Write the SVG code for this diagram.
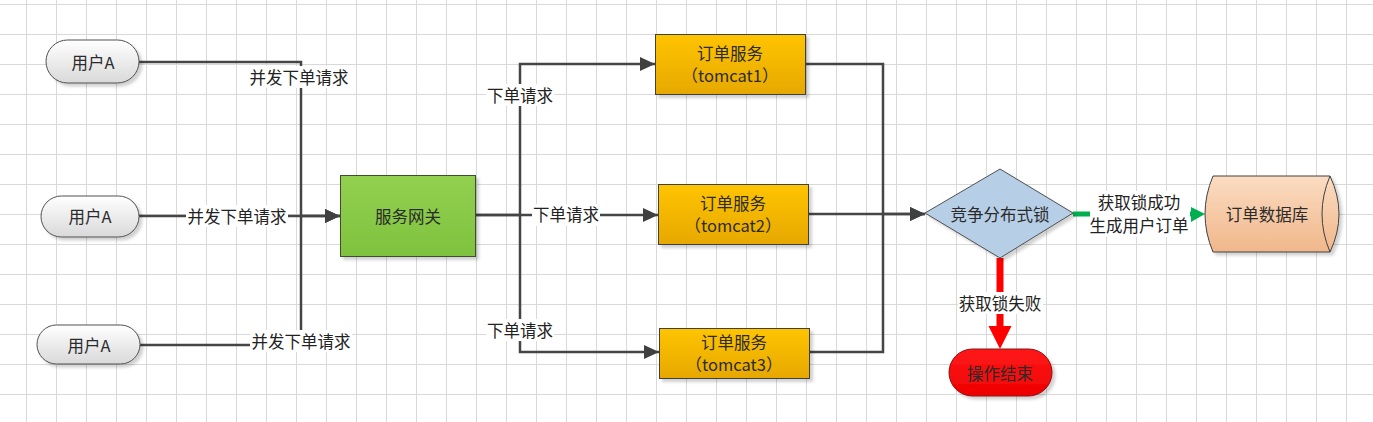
<svg xmlns="http://www.w3.org/2000/svg" width="1373" height="422" viewBox="0 0 1373 422">
  <defs>
    <pattern id="grid" x="26" y="4" width="30" height="30" patternUnits="userSpaceOnUse">
      <path d="M0 0.5 H30 M0.5 0 V30" stroke="#d9d9d9" stroke-width="1" fill="none"/>
    </pattern>
    <linearGradient id="gUser" x1="0" y1="0" x2="0" y2="1">
      <stop offset="0" stop-color="#ffffff"/>
      <stop offset="1" stop-color="#d9d9d9"/>
    </linearGradient>
    <linearGradient id="gGate" x1="0" y1="0" x2="0" y2="1">
      <stop offset="0" stop-color="#92d050"/>
      <stop offset="1" stop-color="#7fc23e"/>
    </linearGradient>
    <linearGradient id="gTom" x1="0" y1="0" x2="0" y2="1">
      <stop offset="0" stop-color="#ffc400"/>
      <stop offset="1" stop-color="#e6a800"/>
    </linearGradient>
    <linearGradient id="gDb" x1="0" y1="0" x2="0" y2="1">
      <stop offset="0" stop-color="#fbdcc2"/>
      <stop offset="1" stop-color="#f0b78a"/>
    </linearGradient>
    <linearGradient id="gEnd" x1="0" y1="0" x2="0" y2="1">
      <stop offset="0" stop-color="#ff1a1a"/>
      <stop offset="1" stop-color="#ee0000"/>
    </linearGradient>
    <filter id="sh" x="-10%" y="-10%" width="130%" height="140%">
      <feDropShadow dx="3" dy="3" stdDeviation="1.5" flood-color="#000" flood-opacity="0.18"/>
    </filter>
    <marker id="arr" markerUnits="userSpaceOnUse" markerWidth="16" markerHeight="16" refX="15" refY="7" orient="auto">
      <path d="M0,0 L15,7 L0,14 z" fill="#404040"/>
    </marker>
  </defs>
  <style>
    text { font-family: "Noto Sans CJK SC", "Liberation Sans", sans-serif; font-size: 16.5px; fill: #222; text-anchor: middle; dominant-baseline: central; }
    .node text { fill: #2b2b2b; }
    .ln { fill: none; stroke: #454545; stroke-width: 2.5; }
    .lbg { fill: #ffffff; }
  </style>
  <rect width="1373" height="422" fill="#ffffff"/>
  <rect width="1373" height="422" fill="url(#grid)"/>

  <g id="connectors">
    <path class="ln" d="M139,62 H301 V216 H340" marker-end="url(#arr)"/>
    <path class="ln" d="M140,345 H301 V216"/>
    <path class="ln" d="M139,216 H340" marker-end="url(#arr)"/>
    <path class="ln" d="M476,215 H520 V64 H655" marker-end="url(#arr)"/>
    <path class="ln" d="M476,215 H658" marker-end="url(#arr)"/>
    <path class="ln" d="M520,215 V352 H659" marker-end="url(#arr)"/>
    <path class="ln" d="M805,64 H883 V214 H925" marker-end="url(#arr)"/>
    <path class="ln" d="M809,352 H883 V214"/>
    <path class="ln" d="M809,214 H925" marker-end="url(#arr)"/>
    <path d="M1073,214 H1192" fill="none" stroke="#00b050" stroke-width="5"/>
    <polygon points="1191,207 1205,214 1191,222" fill="#00b050"/>
    <path d="M1000,258 V328" fill="none" stroke="#ff0000" stroke-width="7"/>
    <polygon points="988.5,326 1011.5,326 1000,349" fill="#ff0000"/>

    <rect class="lbg" x="249" y="66" width="101" height="22"/>
    <text x="299" y="77">并发下单请求</text>
    <rect class="lbg" x="186" y="205" width="102" height="22"/>
    <text x="237" y="216">并发下单请求</text>
    <rect class="lbg" x="250" y="330" width="102" height="22"/>
    <text x="301" y="341">并发下单请求</text>
    <rect class="lbg" x="486" y="84" width="68" height="22"/>
    <text x="520" y="95">下单请求</text>
    <rect class="lbg" x="532" y="204" width="68" height="22"/>
    <text x="566" y="214">下单请求</text>
    <rect class="lbg" x="486" y="319" width="68" height="22"/>
    <text x="520" y="330">下单请求</text>
    <rect class="lbg" x="1090" y="191" width="100" height="46"/>
    <text x="1139" y="202">获取锁成功</text>
    <text x="1139" y="225">生成用户订单</text>
    <rect class="lbg" x="958" y="292" width="85" height="22"/>
    <text x="1000" y="303">获取锁失败</text>
  </g>

  <g id="userA1" class="node">
    <rect x="46" y="40" width="93" height="43" rx="21.5" fill="url(#gUser)" stroke="#505050" stroke-width="1" filter="url(#sh)"/>
    <text x="93" y="62">用户A</text>
  </g>
  <g id="userA2" class="node">
    <rect x="41" y="196" width="98" height="41" rx="20.5" fill="url(#gUser)" stroke="#505050" stroke-width="1" filter="url(#sh)"/>
    <text x="90" y="216">用户A</text>
  </g>
  <g id="userA3" class="node">
    <rect x="37" y="325" width="103" height="39" rx="19.5" fill="url(#gUser)" stroke="#505050" stroke-width="1" filter="url(#sh)"/>
    <text x="89" y="345">用户A</text>
  </g>
  <g id="gateway" class="node">
    <rect x="340.5" y="175.5" width="135" height="81" fill="url(#gGate)" stroke="#3d4d2d" stroke-width="1" filter="url(#sh)"/>
    <text x="408" y="216">服务网关</text>
  </g>
  <g id="tomcat1" class="node">
    <rect x="655.5" y="34.5" width="150" height="60" fill="url(#gTom)" stroke="#404040" stroke-width="1" filter="url(#sh)"/>
    <text x="730" y="53">订单服务</text>
    <text x="730" y="75">（tomcat1）</text>
  </g>
  <g id="tomcat2" class="node">
    <rect x="658.5" y="184.5" width="150" height="60" fill="url(#gTom)" stroke="#404040" stroke-width="1" filter="url(#sh)"/>
    <text x="733" y="203">订单服务</text>
    <text x="733" y="225">（tomcat2）</text>
  </g>
  <g id="tomcat3" class="node">
    <rect x="659.5" y="328.5" width="150" height="50" fill="url(#gTom)" stroke="#404040" stroke-width="1" filter="url(#sh)"/>
    <text x="734" y="342">订单服务</text>
    <text x="734" y="364">（tomcat3）</text>
  </g>
  <g id="lock" class="node">
    <polygon points="925,213 1000,169 1073,213 1000,258" fill="#b7cfe6" stroke="#505050" stroke-width="1" filter="url(#sh)"/>
    <text x="1000" y="214">竞争分布式锁</text>
  </g>
  <g id="orderDb" class="node">
    <path d="M1213,176 H1330 Q1348,214 1330,252 H1213 Q1197,214 1213,176 Z" fill="url(#gDb)" stroke="#404040" stroke-width="1" filter="url(#sh)"/>
    <path d="M1330,176 Q1314,214 1330,252" fill="none" stroke="#404040" stroke-width="1"/>
    <text x="1267" y="214">订单数据库</text>
  </g>
  <g id="endOp" class="node">
    <rect x="949" y="349" width="103" height="47" rx="23.5" fill="url(#gEnd)" stroke="#8a1010" stroke-width="1" filter="url(#sh)"/>
    <text x="1000" y="373">操作结束</text>
  </g>
</svg>
